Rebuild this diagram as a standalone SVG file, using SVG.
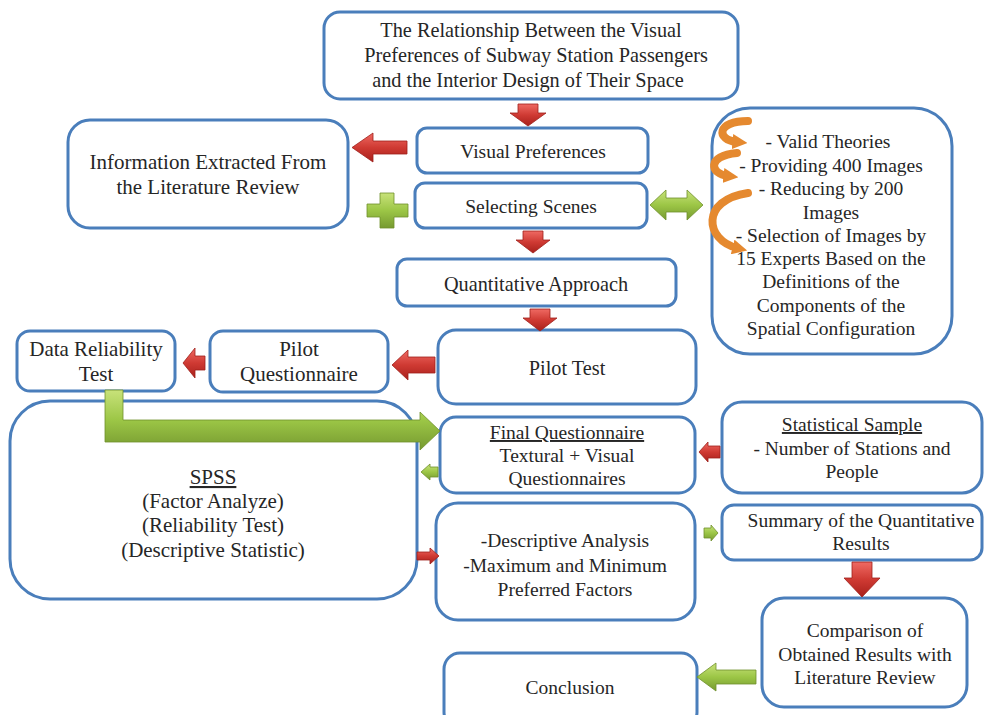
<svg xmlns="http://www.w3.org/2000/svg" width="990" height="715" viewBox="0 0 990 715">
<style>
.box{fill:#fff;stroke:#4a7ebb;stroke-width:3}
.t{font-family:"Liberation Serif",Tinos,"Times New Roman","DejaVu Serif",serif;font-size:19.5px;fill:#262626;text-anchor:middle}
.big{font-size:21px}
.mid{font-size:20.3px}
.u{text-decoration:underline}
.red{fill:url(#gRed);stroke:#9e1f1b;stroke-width:0.8}
.grn{fill:url(#gGrn);stroke:#6f8f2c;stroke-width:0.8}
.org{fill:none;stroke:#e5892f;stroke-width:8;stroke-linecap:round}
</style>
<defs>
<linearGradient id="gRed" x1="0" y1="0" x2="0" y2="1">
<stop offset="0" stop-color="#ef6a63"/><stop offset="0.5" stop-color="#cf3a33"/><stop offset="1" stop-color="#a8201b"/>
</linearGradient>
<linearGradient id="gGrn" x1="0" y1="0" x2="0" y2="1">
<stop offset="0" stop-color="#c8e27a"/><stop offset="0.5" stop-color="#9cc646"/><stop offset="1" stop-color="#769a30"/>
</linearGradient>
<marker id="mOrg" viewBox="0 0 10 10" refX="3" refY="5" markerWidth="15" markerHeight="15" markerUnits="userSpaceOnUse" orient="auto">
<path d="M0,0 L10,5 L0,10 Z" fill="#e5892f"/>
</marker>
</defs>

<g id="title">
<rect class="box" x="324" y="12" width="414" height="87" rx="16"/>
<text class="t mid" x="531" y="37">The Relationship Between the Visual</text>
<text class="t mid" x="536" y="62">Preferences of Subway Station Passengers</text>
<text class="t mid" x="528" y="87">and the Interior Design of Their Space</text>
</g>

<g id="visual-preferences">
<rect class="box" x="417" y="128" width="231" height="45" rx="10"/>
<text class="t" x="533" y="158">Visual Preferences</text>
</g>

<g id="info-extracted">
<rect class="box" x="68" y="120" width="280" height="108" rx="22"/>
<text class="t big" x="208" y="169">Information Extracted From</text>
<text class="t big" x="208" y="194">the Literature Review</text>
</g>

<g id="selecting-scenes">
<rect class="box" x="415" y="183" width="232" height="45" rx="10"/>
<text class="t" x="531" y="213">Selecting Scenes</text>
</g>

<g id="scenes-list">
<rect class="box" x="712" y="108" width="240" height="246" rx="38"/>
<text class="t" x="828" y="148">- Valid Theories</text>
<text class="t" x="831" y="172">- Providing 400 Images</text>
<text class="t" x="831" y="195">- Reducing by 200</text>
<text class="t" x="831" y="219">Images</text>
<text class="t" x="831" y="242">- Selection of Images by</text>
<text class="t" x="831" y="265">15 Experts Based on the</text>
<text class="t" x="831" y="288">Definitions of the</text>
<text class="t" x="831" y="312">Components of the</text>
<text class="t" x="831" y="335">Spatial Configuration</text>
</g>

<g id="quantitative-approach">
<rect class="box" x="397" y="259" width="279" height="47" rx="10"/>
<text class="t mid" x="536" y="291">Quantitative Approach</text>
</g>

<g id="pilot-test">
<rect class="box" x="438" y="330" width="258" height="74" rx="18"/>
<text class="t mid" x="567" y="375">Pilot Test</text>
</g>

<g id="pilot-questionnaire">
<rect class="box" x="210" y="331" width="178" height="61" rx="13"/>
<text class="t big" x="299" y="356">Pilot</text>
<text class="t big" x="299" y="381">Questionnaire</text>
</g>

<g id="data-reliability">
<rect class="box" x="17" y="331" width="158" height="60" rx="13"/>
<text class="t big" x="96" y="356">Data Reliability</text>
<text class="t big" x="96" y="381">Test</text>
</g>

<g id="spss">
<rect class="box" x="10" y="401" width="407" height="198" rx="40"/>
<text class="t big u" x="213" y="484">SPSS</text>
<text class="t big" x="213" y="508">(Factor Analyze)</text>
<text class="t big" x="213" y="532">(Reliability Test)</text>
<text class="t big" x="213" y="557">(Descriptive Statistic)</text>
</g>

<g id="final-questionnaire">
<rect class="box" x="440" y="417" width="255" height="76" rx="16"/>
<text class="t u" x="567" y="439">Final Questionnaire</text>
<text class="t" x="567" y="462">Textural + Visual</text>
<text class="t" x="567" y="485">Questionnaires</text>
</g>

<g id="statistical-sample">
<rect class="box" x="722" y="402" width="260" height="91" rx="20"/>
<text class="t u" x="852" y="431">Statistical Sample</text>
<text class="t" x="852" y="455">- Number of Stations and</text>
<text class="t" x="852" y="478">People</text>
</g>

<g id="descriptive-analysis">
<rect class="box" x="436" y="503" width="259" height="117" rx="22"/>
<text class="t" x="565" y="547">-Descriptive Analysis</text>
<text class="t" x="565" y="572">-Maximum and Minimum</text>
<text class="t" x="565" y="596">Preferred Factors</text>
</g>

<g id="summary">
<rect class="box" x="722" y="505" width="260" height="55" rx="12"/>
<text class="t" x="861" y="527">Summary of the Quantitative</text>
<text class="t" x="861" y="550">Results</text>
</g>

<g id="comparison">
<rect class="box" x="762" y="598" width="205" height="109" rx="22"/>
<text class="t" x="865" y="637">Comparison of</text>
<text class="t" x="865" y="661">Obtained Results with</text>
<text class="t" x="865" y="684">Literature Review</text>
</g>

<g id="conclusion">
<rect class="box" x="444" y="653" width="253" height="75" rx="16"/>
<text class="t" x="570" y="694">Conclusion</text>
</g>

<g id="connectors">
<path class="red" d="M518,104 H538 V113 H546 L528,126 L510,113 H518 Z"/>
<path class="red" d="M523,231 H543 V240 H550 L533,253 L516,240 H523 Z"/>
<path class="red" d="M530,309 H550 V318 H557 L540,331 L523,318 H530 Z"/>
<path class="red" d="M852,562 H872 V578 H880 L862,597 L844,578 H852 Z"/>
<path class="red" d="M407,141 V154 H373 V162 L352,147.5 L373,133 V141 Z"/>
<path class="red" d="M435,357 V373 H408 V380 L392,365 L408,350 V357 Z"/>
<path class="red" d="M205,356 V370 H195 V378 L183,363 L195,348 V356 Z"/>
<path class="red" d="M720,446 V458 H708 V462 L699,452 L708,442 V446 Z"/>
<path class="red" d="M417,552 H430 V548 L439,556 L430,564 V560 H417 Z"/>
<path class="grn" d="M380,193 H394 V204 H408 V217 H394 V228 H380 V217 H367 V204 H380 Z"/>
<path class="grn" d="M650,205 L666,190 V198 H687 V190 L703,205 L687,220 V212 H666 V220 Z"/>
<path class="grn" d="M105,390 H123 V420 H420 V412 L440,431 L420,450 V442 H105 Z"/>
<path class="grn" d="M438,467 V477 H430 V480 L421,472 L430,464 V467 Z"/>
<path class="grn" d="M704,528 H711 V525 L718,533 L711,541 V538 H704 Z"/>
<path class="grn" d="M756,670 V684 H716 V691 L697,677 L716,663 V670 Z"/>
<path class="org" d="M748,121 C716,121 716,140 737,142" marker-end="url(#mOrg)"/>
<path class="org" d="M737,153 C706,156 710,174 728,176" marker-end="url(#mOrg)"/>
<path class="org" d="M748,193 C700,200 705,240 737,248" marker-end="url(#mOrg)"/>
</g>
</svg>
